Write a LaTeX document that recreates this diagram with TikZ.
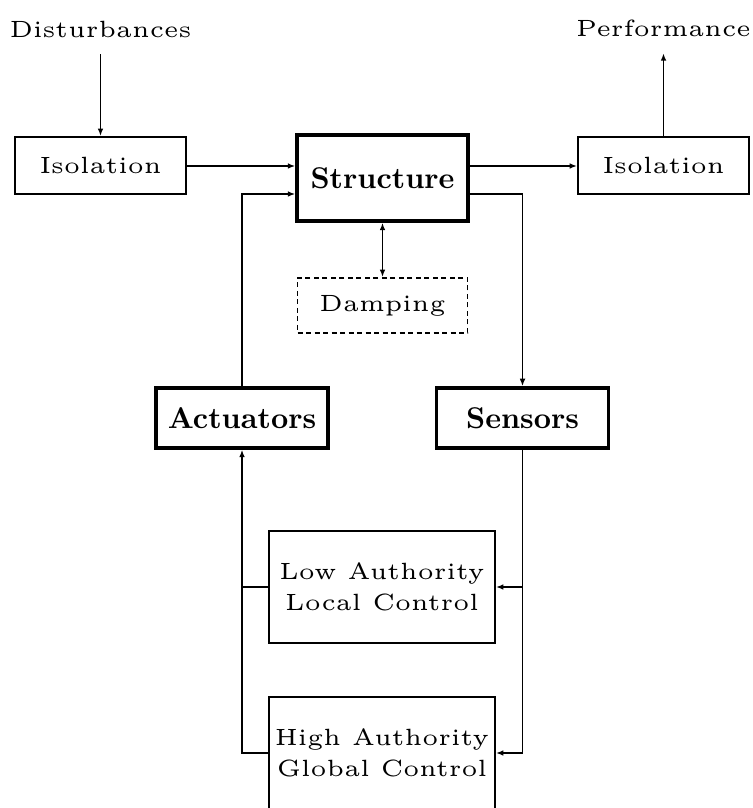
\documentclass[tikz,border=0pt]{standalone}
\usepackage{graphicx}
\usetikzlibrary{arrows.meta}
\newcommand{\bigbold}[1]{\scalebox{0.6}{\bfseries\fontsize{10}{12}\selectfont #1}}
\tikzset{
  box/.style={draw, line width=0.38pt, inner sep=0pt, align=center,
    font=\fontsize{4.7}{6.2}\selectfont},
  bbox/.style={draw, line width=0.7pt, inner sep=0pt, align=center},
  isobox/.style={box, minimum width=34.2pt, minimum height=11.4pt},
  ctrlbox/.style={box, minimum width=45.2pt, minimum height=22.4pt},
  lbl/.style={inner xsep=0pt, inner ysep=3pt, anchor=base,
    font=\fontsize{4.7}{6.2}\selectfont},
  conn/.style={line width=0.3pt},
  arr/.style={conn, -{Latex[length=1.5pt,width=1.15pt]}},
  arrb/.style={conn, {Latex[length=1.5pt,width=1.15pt]}-{Latex[length=1.5pt,width=1.15pt]}}
}
\begin{document}
\begin{tikzpicture}[x=0.2pt, y=-0.2pt]
\useasboundingbox (0,0) rectangle (752,808);
\node[lbl] (dist) at (100.5,38) {Disturbances};
\node[lbl] (perf) at (663.5,37) {Performance};
\node[isobox] (isoL) at (100.5,165.5) {Isolation};
\node[isobox] (isoR) at (663.5,165.5) {Isolation};
\node[bbox, minimum width=34.2pt, minimum height=17.2pt] (struct) at (382.5,178) {\bigbold{Structure}};
\node[box, dash pattern=on 1pt off 0.7pt, minimum width=34pt, minimum height=11pt] (damp) at (382.5,305.5) {Damping};
\node[bbox, minimum width=34.4pt, minimum height=12pt] (act) at (242,418) {\bigbold{Actuators}};
\node[bbox, minimum width=34.4pt, minimum height=12pt] (sens) at (522.5,418) {\bigbold{Sensors}};
\node[ctrlbox] (low) at (382,587) {Low Authority\\Local Control};
\node[ctrlbox] (high) at (382,753) {High Authority\\Global Control};
\path (struct.west) ++(0,-12) coordinate (sW1);
\path (struct.west) ++(0,16) coordinate (sW2);
\path (struct.east) ++(0,-12) coordinate (sE1);
\path (struct.east) ++(0,16) coordinate (sE2);
\draw[arr] (dist.south) -- (isoL.north);
\draw[arr] (isoL.east |- sW1) -- (sW1);
\draw[arr] (act.north) |- (sW2);
\draw[arr] (sE1) -- (sE1 -| isoR.west);
\draw[arr] (isoR.north) -- (perf.south);
\draw[arr] (sE2) -| (sens.north);
\draw[arrb] (struct.south) -- (damp.north);
\draw[arr] (sens.south) |- (high.east);
\draw[arr] (sens.south |- low.east) -- (low.east);
\draw[arr] (high.west) -| (act.south);
\draw[conn] (low.west) -- (low.west -| act.south);
\end{tikzpicture}
\end{document}
